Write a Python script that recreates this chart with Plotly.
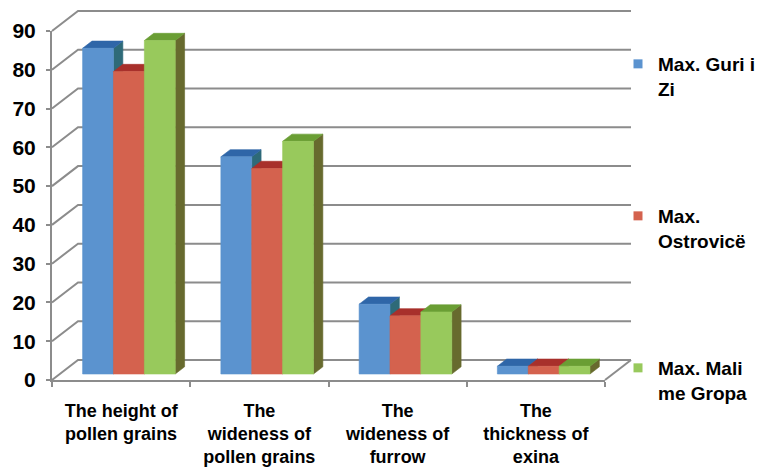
import plotly.graph_objects as go

# ---- data -------------------------------------------------------------
categories = [
    "The height of<br>pollen grains",
    "The<br>wideness of<br>pollen grains",
    "The<br>wideness of<br>furrow",
    "The<br>thickness of<br>exina",
]
series_names = ["Max. Guri i<br>Zi", "Max.<br>Ostrovicë", "Max. Mali<br>me Gropa"]
guri_i_zi = [84, 56, 18, 2]
ostrovice = [78, 53, 15, 2]
mali_me_gropa = [86, 60, 16, 2]
y_ticks = [0, 10, 20, 30, 40, 50, 60, 70, 80, 90]

# ---- styling ----------------------------------------------------------
FONT = "Liberation Sans, Arial, sans-serif"
GRID = "#8c8c8c"
front_colors = ["#5b93cf", "#d4624e", "#98c95c"]
top_colors = ["#2f66a8", "#a8302b", "#6a9e34"]
side_colors = ["#2e6a78", "#8b2f28", "#676a2e"]

# ---- oblique 3D frame ---------------------------------------------------
W, H = 757, 468
X_LEFT, X_RIGHT = 52, 605      # front edge of the floor
Y_ZERO, Y_TOP = 380, 31        # value 0 and value max on the front plane
VMAX = y_ticks[-1]
n_cat = len(categories)
px_per_cat = (X_RIGHT - X_LEFT) / n_cat
px_per_val = (Y_ZERO - Y_TOP) / VMAX
DX = 26 / px_per_cat           # full floor depth, horizontal part
DY = 20 / px_per_val           # full floor depth, vertical part
Z_FRONT, Z_BACK = 0.30, 0.66   # bar front / back depth (fraction of floor)
GROUP_W = 0.67
BAR_W = GROUP_W / 3

x_range = [-0.5 - X_LEFT / px_per_cat, -0.5 + (W - X_LEFT) / px_per_cat]
y_range = [-(H - Y_ZERO) / px_per_val, Y_ZERO / px_per_val]


def proj(x, v, z):
    return x + z * DX, v + z * DY


def polys_to_xy(polys):
    xs, ys = [], []
    for poly in polys:
        for (x, v) in poly:
            xs.append(x)
            ys.append(v)
        xs.append(poly[0][0])
        ys.append(poly[0][1])
        xs.append(None)
        ys.append(None)
    return xs, ys


fig = go.Figure()

# walls: left-wall diagonals, back-wall gridlines and the floor outline
gx, gy = [], []
x_lo, x_hi = -0.5, n_cat - 0.5
for v in y_ticks:
    for (x, vv) in [proj(x_lo, v, 0), proj(x_lo, v, 1), proj(x_hi, v, 1)]:
        gx.append(x)
        gy.append(vv)
    gx.append(None)
    gy.append(None)
for (x, vv) in [proj(x_hi, 0, 0), proj(x_hi, 0, 1)]:
    gx.append(x)
    gy.append(vv)
fig.add_trace(go.Scatter(x=gx, y=gy, mode="lines", line=dict(color=GRID, width=2),
                         hoverinfo="skip", showlegend=False))

# 3D bars, drawn back-to-front series by series
all_series = [guri_i_zi, ostrovice, mali_me_gropa]
for s, values in enumerate(all_series):
    fronts, tops, sides = [], [], []
    for i, v in enumerate(values):
        x0 = i - GROUP_W / 2 + s * BAR_W
        x1 = x0 + BAR_W
        fronts.append([proj(x0, 0, Z_FRONT), proj(x1, 0, Z_FRONT),
                       proj(x1, v, Z_FRONT), proj(x0, v, Z_FRONT)])
        tops.append([proj(x0, v, Z_FRONT), proj(x1, v, Z_FRONT),
                     proj(x1, v, Z_BACK), proj(x0, v, Z_BACK)])
        sides.append([proj(x1, 0, Z_FRONT), proj(x1, v, Z_FRONT),
                      proj(x1, v, Z_BACK), proj(x1, 0, Z_BACK)])
    for polys, col in [(sides, side_colors[s]), (tops, top_colors[s]),
                       (fronts, front_colors[s])]:
        xs, ys = polys_to_xy(polys)
        fig.add_trace(go.Scatter(x=xs, y=ys, mode="lines", fill="toself",
                                 fillcolor=col, line=dict(color=col, width=0.6),
                                 hoverinfo="skip", showlegend=False))

# legend entries
legend_ids = ["legend", "legend2", "legend3"]
for s, name in enumerate(series_names):
    fig.add_trace(go.Scatter(x=[None], y=[None], mode="markers", name=name,
                             marker=dict(symbol="square", size=9, color=front_colors[s]),
                             legend=legend_ids[s], hoverinfo="skip"))

# front-plane axes (category axis along the floor edge, value axis on the left)
fig.add_trace(go.Scatter(x=categories, y=[None] * n_cat, xaxis="x2", yaxis="y2",
                         mode="markers", hoverinfo="skip", showlegend=False))

legend_common = dict(font=dict(family=FONT, size=19, color="black", weight="bold"),
                     bgcolor="rgba(0,0,0,0)", borderwidth=0, valign="top",
                     xanchor="left", yanchor="top", itemwidth=30)
legend_tops = [45, 197, 349]

fig.update_layout(
    width=W, height=H,
    margin=dict(l=0, r=0, t=0, b=0, pad=0, autoexpand=False),
    paper_bgcolor="white", plot_bgcolor="rgba(0,0,0,0)",
    xaxis=dict(domain=[0, 1], range=x_range, visible=False, fixedrange=True,
               automargin=False),
    yaxis=dict(domain=[0, 1], range=y_range, visible=False, fixedrange=True,
               automargin=False),
    xaxis2=dict(domain=[X_LEFT / W, X_RIGHT / W], anchor="y2", type="category",
                categoryorder="array", categoryarray=categories,
                range=[-0.5, n_cat - 0.5], tickson="boundaries",
                ticks="outside", ticklen=5, tickcolor=GRID, tickwidth=2,
                showline=True, linecolor=GRID, linewidth=2, showgrid=False,
                zeroline=False, ticklabelstandoff=13, automargin=False,
                tickfont=dict(family=FONT, size=18, color="black", weight="bold")),
    yaxis2=dict(domain=[1 - Y_ZERO / H, 1 - Y_TOP / H], anchor="x2",
                range=[0, VMAX], tickvals=y_ticks, ticks="outside", ticklen=4,
                tickcolor=GRID, tickwidth=2, showline=True, linecolor=GRID,
                linewidth=2, showgrid=False, zeroline=False, ticklabelstandoff=6,
                automargin=False,
                tickfont=dict(family=FONT, size=21, color="black", weight="bold")),
    legend=dict(x=618 / W, y=1 - legend_tops[0] / H, **legend_common),
    legend2=dict(x=618 / W, y=1 - legend_tops[1] / H, **legend_common),
    legend3=dict(x=618 / W, y=1 - legend_tops[2] / H, **legend_common),
)

fig.write_html("out.html")
